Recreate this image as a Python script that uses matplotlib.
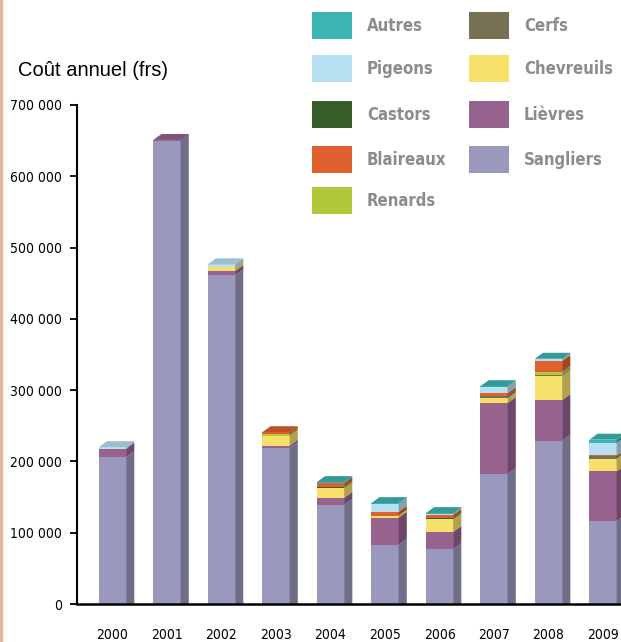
import numpy as np
import matplotlib.pyplot as plt
from matplotlib.patches import Polygon, Rectangle
from matplotlib.colors import to_rgb
from matplotlib import font_manager

# annual cost per species, in thousands of francs
years = ['2000', '2001', '2002', '2003', '2004', '2005', '2006', '2007', '2008', '2009']
sangliers = [206, 649, 461, 219, 139, 83, 77, 182, 229, 116]
lievres = [11, 2, 6, 3, 10, 38, 24, 100, 57, 70]
chevreuils = [0, 0, 5.5, 13, 14, 3, 18, 7, 34, 18]
cerfs = [0, 0, 0, 0, 0, 0, 0, 3, 1.5, 3]
renards = [0, 0, 0, 3, 0, 0, 0, 0, 4, 0]
castors = [1, 0, 0, 0, 1.5, 0, 2, 0, 0, 0]
blaireaux = [0, 0, 0, 3, 5, 5.5, 4, 4, 15.5, 1.5]
pigeons = [2, 0, 4, 0, 0, 11, 1, 8.5, 2, 17]
autres = [0, 0, 0, 0, 1.5, 1, 1.5, 1, 1, 5]

series = [
    ('Sangliers', sangliers, '#9a99bd'),
    ('Lièvres', lievres, '#98628f'),
    ('Chevreuils', chevreuils, '#f6e06a'),
    ('Cerfs', cerfs, '#767152'),
    ('Renards', renards, '#b2c63a'),
    ('Castors', castors, '#385e2c'),
    ('Blaireaux', blaireaux, '#e0602e'),
    ('Pigeons', pigeons, '#b8e0f3'),
    ('Autres', autres, '#3bb5b3'),
]

# use a condensed face when one is around
have_cond = any(f.name == 'DejaVu Sans' and f.stretch == 'condensed'
                for f in font_manager.fontManager.ttflist)
if have_cond:
    narrow = dict(family='DejaVu Sans', fontstretch='condensed')
    tick_size, leg_size = 10, 12
else:
    narrow = dict(family=['Roboto', 'DejaVu Sans'])
    tick_size, leg_size = 9.5, 11.5


def shade(c, f):
    r, g, b = to_rgb(c)
    return (r * f, g * f, b * f)


fig = plt.figure(figsize=(6.21, 6.42), dpi=100)
ax = fig.add_axes([77 / 621, 38 / 642, 544 / 621, 499 / 642])

x = np.arange(len(years))
w = 0.5
dx = 0.15      # depth of the fake 3d box
dy = 8400

bottom = np.zeros(len(years))
top_color = [None] * len(years)
for name, vals, col in series:
    vals = np.array(vals) * 1000.0
    ax.bar(x, vals, w, bottom=bottom, color=col, linewidth=0, zorder=2)
    for i in range(len(years)):
        if vals[i] <= 0:
            continue
        b = bottom[i]
        t = b + vals[i]
        xr = x[i] + w / 2
        side = Polygon([(xr, b), (xr + dx, b + dy if b > 0 else 0),
                        (xr + dx, t + dy), (xr, t)],
                       closed=True, facecolor=shade(col, 0.72), edgecolor='none', zorder=2)
        ax.add_patch(side)
        top_color[i] = col
    bottom = bottom + vals

# top faces of the boxes
for i in range(len(years)):
    t = bottom[i]
    xl = x[i] - w / 2
    top = Polygon([(xl, t), (xl + dx, t + dy), (xl + w + dx, t + dy), (xl + w, t)],
                  closed=True, facecolor=shade(top_color[i], 0.85), edgecolor='none', zorder=2)
    ax.add_patch(top)

ax.set_xlim(-0.651, 9.33)
ax.set_ylim(0, 700000)
ax.set_yticks(np.arange(0, 700001, 100000))
ax.set_yticklabels(['0'] + ['%d 000' % (v // 1000) for v in range(100000, 700001, 100000)])
ax.set_xticks(x)
ax.set_xticklabels(years)
for lab in ax.get_yticklabels() + ax.get_xticklabels():
    lab.set(**narrow)
    lab.set_fontsize(tick_size)
    lab.set_fontweight('medium')
ax.tick_params(axis='y', direction='out', length=5, width=1.3, pad=6)
ax.tick_params(axis='x', length=0, pad=17)
ax.spines['top'].set_visible(False)
ax.spines['right'].set_visible(False)
ax.spines['left'].set_linewidth(1.5)
ax.spines['bottom'].set_linewidth(1.8)
ax.spines['left'].set_zorder(3)
ax.spines['bottom'].set_zorder(3)

fig.text(18 / 621, 1 - 76 / 642, 'Coût annuel (frs)', fontsize=14.5,
         family=['Liberation Sans', 'DejaVu Sans'], va='baseline')

# legend drawn by hand in two columns
left_names = ['Autres', 'Pigeons', 'Castors', 'Blaireaux', 'Renards']
right_names = ['Cerfs', 'Chevreuils', 'Lièvres', 'Sangliers']
left_rows = [12, 55, 101, 146, 187]
right_rows = [12, 55, 101, 146]
colors = {name: col for name, _, col in series}
for names, rows, x0 in [(left_names, left_rows, 312), (right_names, right_rows, 469)]:
    for name, y0 in zip(names, rows):
        fig.add_artist(Rectangle((x0 / 621, 1 - (y0 + 27) / 642), 40 / 621, 27 / 642,
                                 transform=fig.transFigure, facecolor=colors[name],
                                 edgecolor='none'))
        fig.text((x0 + 55) / 621, 1 - (y0 + 14) / 642, name, fontsize=leg_size,
                 fontweight='bold', color='#8c8c8c', va='center', **narrow)

# thin border on the left edge
fig.add_artist(plt.Line2D([0.002, 0.002], [0, 1], transform=fig.transFigure,
                          color='#e2b49c', lw=2.5))

fig.savefig('out.png', dpi=100)
